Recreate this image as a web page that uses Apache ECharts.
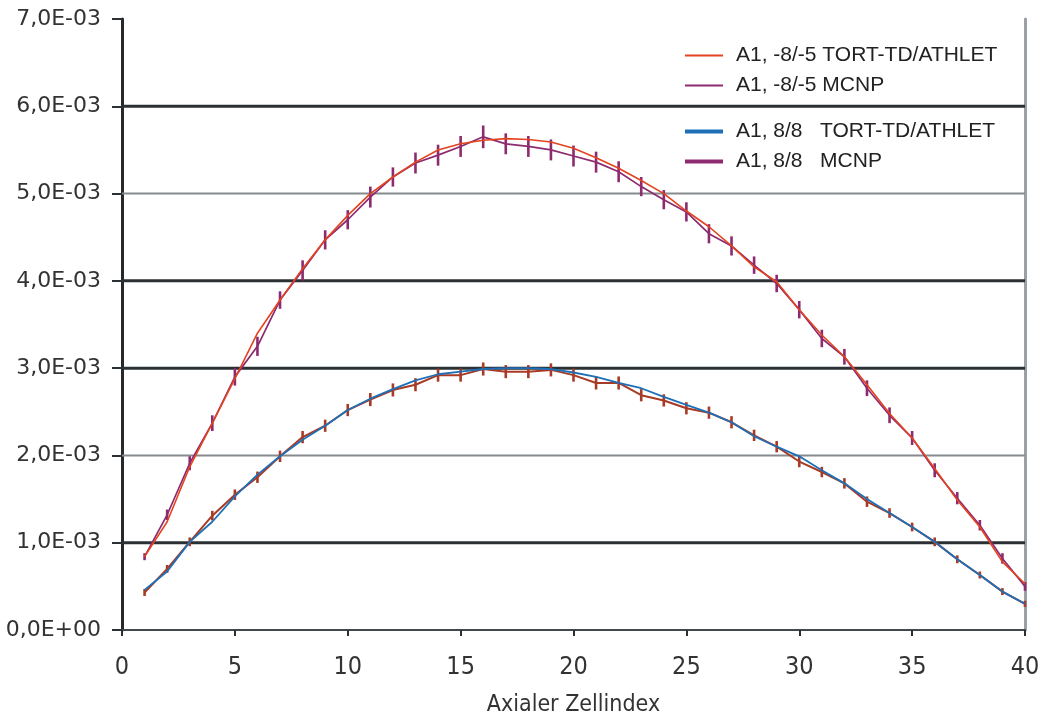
<!DOCTYPE html>
<html>
<head>
<meta charset="utf-8">
<title>Axiale Leistungsverteilung A1</title>
<script src="https://cdn.jsdelivr.net/npm/echarts@6/dist/echarts.min.js"></script>
<style>
  html, body { margin: 0; padding: 0; background: #ffffff; }
  #chart { width: 1042px; height: 717px; }
</style>
</head>
<body>
<div id="chart"></div>
<script>
// Axial cell index
const cells = [1, 2, 3, 4, 5, 6, 7, 8, 9, 10, 11, 12, 13, 14, 15, 16, 17, 18, 19, 20,
               21, 22, 23, 24, 25, 26, 27, 28, 29, 30, 31, 32, 33, 34, 35, 36, 37, 38, 39, 40];

// A1, -8/-5 : TORT-TD/ATHLET
const upperTort = [0.84e-3, 1.24e-3, 1.87e-3, 2.37e-3, 2.88e-3, 3.40e-3, 3.78e-3, 4.14e-3, 4.47e-3, 4.75e-3,
                   5.00e-3, 5.19e-3, 5.36e-3, 5.50e-3, 5.57e-3, 5.61e-3, 5.63e-3, 5.62e-3, 5.59e-3, 5.52e-3,
                   5.41e-3, 5.29e-3, 5.15e-3, 5.00e-3, 4.80e-3, 4.62e-3, 4.40e-3, 4.16e-3, 3.99e-3, 3.67e-3,
                   3.38e-3, 3.13e-3, 2.81e-3, 2.48e-3, 2.20e-3, 1.85e-3, 1.49e-3, 1.18e-3, 0.78e-3, 0.53e-3];

// A1, -8/-5 : MCNP
const upperMcnp = [0.84e-3, 1.32e-3, 1.91e-3, 2.37e-3, 2.90e-3, 3.25e-3, 3.78e-3, 4.12e-3, 4.47e-3, 4.70e-3,
                   4.96e-3, 5.19e-3, 5.35e-3, 5.44e-3, 5.54e-3, 5.65e-3, 5.57e-3, 5.54e-3, 5.50e-3, 5.43e-3,
                   5.36e-3, 5.25e-3, 5.08e-3, 4.93e-3, 4.79e-3, 4.54e-3, 4.40e-3, 4.18e-3, 3.97e-3, 3.67e-3,
                   3.34e-3, 3.13e-3, 2.77e-3, 2.46e-3, 2.20e-3, 1.83e-3, 1.51e-3, 1.20e-3, 0.82e-3, 0.50e-3];
const upperMcnpErr = [0.40e-4, 0.60e-4, 0.80e-4, 0.90e-4, 1.00e-4, 1.10e-4, 1.00e-4, 1.15e-4, 1.10e-4, 1.10e-4,
                      1.20e-4, 1.10e-4, 1.20e-4, 1.20e-4, 1.20e-4, 1.30e-4, 1.20e-4, 1.20e-4, 1.20e-4, 1.20e-4,
                      1.20e-4, 1.20e-4, 1.10e-4, 1.10e-4, 1.10e-4, 1.10e-4, 1.10e-4, 1.00e-4, 1.00e-4, 1.00e-4,
                      1.00e-4, 0.90e-4, 0.90e-4, 0.90e-4, 0.80e-4, 0.80e-4, 0.70e-4, 0.60e-4, 0.60e-4, 0.50e-4];

// A1, 8/8 : TORT-TD/ATHLET
const lowerTort = [0.46e-3, 0.67e-3, 1.01e-3, 1.24e-3, 1.53e-3, 1.78e-3, 1.99e-3, 2.18e-3, 2.34e-3, 2.52e-3,
                   2.65e-3, 2.76e-3, 2.86e-3, 2.93e-3, 2.96e-3, 2.99e-3, 3.00e-3, 3.00e-3, 2.99e-3, 2.95e-3,
                   2.90e-3, 2.83e-3, 2.77e-3, 2.67e-3, 2.58e-3, 2.49e-3, 2.38e-3, 2.22e-3, 2.10e-3, 1.99e-3,
                   1.83e-3, 1.68e-3, 1.50e-3, 1.34e-3, 1.18e-3, 1.01e-3, 0.81e-3, 0.63e-3, 0.44e-3, 0.30e-3];

// A1, 8/8 : MCNP
const lowerMcnp = [0.43e-3, 0.70e-3, 1.01e-3, 1.31e-3, 1.55e-3, 1.75e-3, 1.99e-3, 2.21e-3, 2.34e-3, 2.52e-3,
                   2.64e-3, 2.75e-3, 2.81e-3, 2.92e-3, 2.92e-3, 2.99e-3, 2.96e-3, 2.96e-3, 2.98e-3, 2.92e-3,
                   2.83e-3, 2.83e-3, 2.69e-3, 2.63e-3, 2.54e-3, 2.49e-3, 2.38e-3, 2.23e-3, 2.10e-3, 1.93e-3,
                   1.81e-3, 1.68e-3, 1.47e-3, 1.34e-3, 1.18e-3, 1.01e-3, 0.81e-3, 0.63e-3, 0.44e-3, 0.30e-3];
const lowerMcnpErr = [0.40e-4, 0.45e-4, 0.50e-4, 0.55e-4, 0.60e-4, 0.65e-4, 0.65e-4, 0.70e-4, 0.70e-4, 0.70e-4,
                      0.75e-4, 0.75e-4, 0.75e-4, 0.75e-4, 0.75e-4, 0.75e-4, 0.75e-4, 0.75e-4, 0.75e-4, 0.75e-4,
                      0.75e-4, 0.75e-4, 0.70e-4, 0.70e-4, 0.70e-4, 0.70e-4, 0.70e-4, 0.65e-4, 0.65e-4, 0.65e-4,
                      0.60e-4, 0.60e-4, 0.60e-4, 0.55e-4, 0.50e-4, 0.50e-4, 0.45e-4, 0.40e-4, 0.40e-4, 0.35e-4];

// Horizontal reference lines (heavy and light)
const heavyGrid = [1e-3, 3e-3, 4e-3, 6e-3];
const lightGrid = [2e-3, 5e-3];

const NAMES = {
  upperTort: 'A1, -8/-5 TORT-TD/ATHLET',
  upperMcnp: 'A1, -8/-5 MCNP',
  lowerTort: 'A1, 8/8   TORT-TD/ATHLET',
  lowerMcnp: 'A1, 8/8   MCNP'
};

const COLORS = {
  red: '#e4431f',
  purple: '#8c2b6f',
  blue: '#1d6fb7',
  brown: '#a73b26'
};

const GRID_STYLE = {
  heavy: { stroke: '#2b3034', lineWidth: 3 },
  light: { stroke: '#858a8e', lineWidth: 2 }
};

const X_MIN = 0, X_MAX = 40;

const pairs = (vals) => cells.map((c, i) => [c, vals[i]]);
const errPairs = (vals, errs) => cells.map((c, i) => [c, vals[i] - errs[i], vals[i] + errs[i]]);

// "7,0E-03" style scientific labels
function sci(v) {
  const s = Number(v).toExponential(1);
  const parts = s.split('e');
  const exp = parts[1];
  const sign = exp[0] === '-' ? '-' : '+';
  const digits = exp.replace(/[+-]/, '');
  return parts[0].replace('.', ',') + 'E' + sign + digits.padStart(2, '0');
}

function errorBars(color, width) {
  return function (params, api) {
    const top = api.coord([api.value(0), api.value(2)]);
    const bot = api.coord([api.value(0), api.value(1)]);
    return {
      type: 'rect',
      shape: { x: top[0] - width / 2, y: top[1], width: width, height: bot[1] - top[1] },
      style: { fill: color }
    };
  };
}

// Horizontal lines spanning the full x range at the given y values
function gridLine(params, api) {
  const v = api.value(1);
  const kind = heavyGrid.indexOf(v) >= 0 ? 'heavy' : 'light';
  const a = api.coord([X_MIN, v]);
  const b = api.coord([X_MAX, v]);
  return {
    type: 'line',
    shape: { x1: a[0], y1: a[1], x2: b[0], y2: b[1] },
    style: GRID_STYLE[kind]
  };
}

const gridData = heavyGrid.concat(lightGrid).map(v => [X_MIN, v]);

const chart = echarts.init(document.getElementById('chart'), null, { renderer: 'canvas' });

const legendText = { fontFamily: 'Liberation Sans, Arial, sans-serif', fontSize: 21, color: '#222222', padding: [0, 0, 0, 8] };
const narrowFont = 'DejaVu Sans Condensed, Liberation Sans Narrow, sans-serif';

chart.setOption({
  backgroundColor: '#ffffff',
  animation: false,
  grid: { left: 122, right: 17, top: 19, bottom: 87, containLabel: false, outerBoundsMode: 'none' },
  legend: [
    {
      id: 'legendUpper', orient: 'vertical', left: 680, top: 40, itemWidth: 38, itemHeight: 2, itemGap: 9,
      icon: 'rect', selectedMode: false, textStyle: legendText,
      data: [
        { name: NAMES.upperTort, itemStyle: { color: COLORS.red } },
        { name: NAMES.upperMcnp, itemStyle: { color: COLORS.purple } }
      ]
    },
    {
      id: 'legendLower', orient: 'vertical', left: 680, top: 116, itemWidth: 38, itemHeight: 4, itemGap: 9,
      icon: 'rect', selectedMode: false, textStyle: legendText,
      data: [
        { name: NAMES.lowerTort, itemStyle: { color: COLORS.blue } },
        { name: NAMES.lowerMcnp, itemStyle: { color: COLORS.purple } }
      ]
    }
  ],
  xAxis: {
    type: 'value', min: X_MIN, max: X_MAX, interval: 5,
    name: 'Axialer Zellindex', nameLocation: 'middle', nameGap: 64,
    nameTextStyle: { fontFamily: narrowFont, fontSize: 23, color: '#333333' },
    axisLine: { show: true, onZero: false, lineStyle: { color: '#43484c', width: 2 } },
    axisTick: { show: true, inside: false, length: 6, lineStyle: { color: '#2b3034', width: 2 } },
    axisLabel: { margin: 25, fontFamily: narrowFont, fontSize: 25, color: '#333333' },
    splitLine: { show: false }
  },
  yAxis: [
    {
      type: 'value', min: 0, max: 7e-3, interval: 1e-3,
      axisLine: { show: true, onZero: false, lineStyle: { color: '#25292c', width: 3 } },
      axisTick: { show: true, inside: false, length: 10, lineStyle: { color: '#2b3034', width: 2 } },
      axisLabel: { margin: 21, formatter: sci, fontFamily: 'DejaVu Sans, sans-serif', fontSize: 22, color: '#333333' },
      splitLine: { show: false }
    },
    {
      type: 'value', min: 0, max: 7e-3, interval: 1e-3, position: 'right',
      axisLine: { show: true, onZero: false, lineStyle: { color: '#9ba0a4', width: 3 } },
      axisTick: { show: false }, axisLabel: { show: false }, splitLine: { show: false }
    }
  ],
  series: [
    {
      name: 'grid', type: 'custom', z: 1, silent: true, data: gridData,
      encode: { x: 0, y: 1 }, renderItem: gridLine
    },
    {
      name: NAMES.upperMcnp, type: 'line', data: pairs(upperMcnp), z: 3,
      symbol: 'none', lineStyle: { color: COLORS.purple, width: 1.7 }, itemStyle: { color: COLORS.purple }
    },
    {
      name: 'upper-mcnp-err', type: 'custom', z: 4, data: errPairs(upperMcnp, upperMcnpErr),
      encode: { x: 0, y: [1, 2] }, renderItem: errorBars(COLORS.purple, 2.6)
    },
    {
      name: NAMES.upperTort, type: 'line', data: pairs(upperTort), z: 5,
      symbol: 'none', lineStyle: { color: COLORS.red, width: 1.6 }, itemStyle: { color: COLORS.red }
    },
    {
      name: NAMES.lowerMcnp, type: 'line', data: pairs(lowerMcnp), z: 3,
      symbol: 'none', lineStyle: { color: COLORS.brown, width: 2 }, itemStyle: { color: COLORS.brown }
    },
    {
      name: 'lower-mcnp-err', type: 'custom', z: 4, data: errPairs(lowerMcnp, lowerMcnpErr),
      encode: { x: 0, y: [1, 2] }, renderItem: errorBars(COLORS.brown, 2.6)
    },
    {
      name: NAMES.lowerTort, type: 'line', data: pairs(lowerTort), z: 5,
      symbol: 'none', lineStyle: { color: COLORS.blue, width: 1.8 }, itemStyle: { color: COLORS.blue }
    }
  ]
});
</script>
</body>
</html>
